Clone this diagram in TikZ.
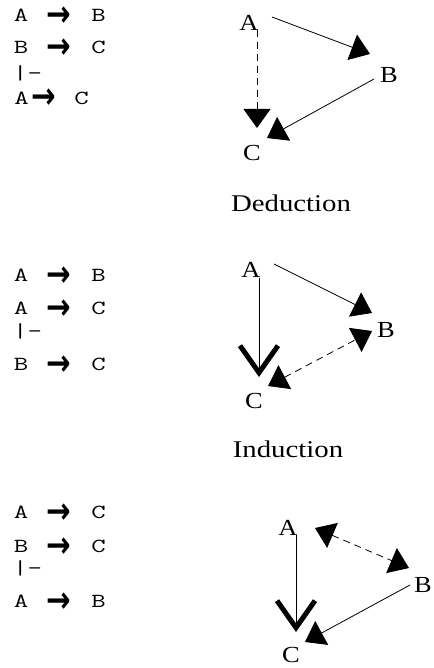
\documentclass[tikz,border=0pt]{standalone}
\usepackage{fontspec}
\usepackage{graphicx}
\usetikzlibrary{arrows.meta}
\newfontfamily\arrfont{DejaVu Sans}
\newfontfamily\labfont{Liberation Serif}
\newcommand\widen[2]{\scalebox{#1}[1]{#2}}
\newcommand\premarr{\smash{\scalebox{1.05}[1.3]{→}}}
\tikzset{
  premtext/.style={inner sep=0pt, font=\fontsize{20}{20}\selectfont\ttfamily},
  premarrow/.style={inner sep=0pt, text height=22pt, text depth=-6pt,
    font=\fontsize{28}{28}\selectfont\arrfont\bfseries},
  vertexlab/.style={inner sep=0pt, font=\fontsize{23}{23}\selectfont\labfont},
  paneltitle/.style={inner sep=0pt, font=\fontsize{24}{24}\selectfont\labfont},
  solidline/.style={line width=0.8pt},
  dashline/.style={line width=0.8pt, dash pattern=on 7pt off 5pt},
  trihead/.style={-{Triangle[length=19pt,width=27pt]}},
  bitrihead/.style={{Triangle[length=19pt,width=27pt]}-{Triangle[length=19pt,width=27pt]}},
  veehead/.style={-{Straight Barb[length=27pt,width=38pt,line width'=5pt]}}
}
\newcommand\premline[4]{%
  \node[premtext] (#1x) at (21,#2) {\widen{1.4}{#3}};
  \node[premarrow] (#1a) at (59,#2) {\premarr};
  \node[premtext] (#1y) at (98.5,#2) {\widen{1.4}{#4}};}
\begin{document}
\begin{tikzpicture}[x=1pt,y=-1pt]
\useasboundingbox (0,0) rectangle (433,668);
% ---------- Panel 1: Deduction ----------
\premline{pa1}{15.5}{A}{B}
\premline{pa2}{47.5}{B}{C}
\node[premtext, anchor=west] (pat) at (13,73) {\widen{1.4}{|-}};
\node[premtext] (pa4x) at (21.5,98) {\widen{1.4}{A}};
\node[premarrow] (pa4a) at (43.5,98) {\premarr};
\node[premtext] (pa4y) at (81.5,98) {\widen{1.4}{C}};
\node[vertexlab] (A1) at (249,23) {\widen{1.15}{A}};
\node[vertexlab] (B1) at (389,75) {\widen{1.15}{B}};
\node[vertexlab] (C1) at (252,153) {\widen{1.15}{C}};
\node[paneltitle] (T1) at (291,203) {\widen{1.2}{Deduction}};
\draw[solidline,trihead] ([shift={(23,-6)}]A1.center) -- ([shift={(-19,-21)}]B1.center);
\draw[dashline,trihead] ([shift={(8,7)}]A1.center) -- ([shift={(5,-25)}]C1.center);
\draw[solidline,trihead] ([shift={(-15,4)}]B1.center) -- ([shift={(15,-15)}]C1.center);
% ---------- Panel 2: Induction ----------
\premline{pb1}{275}{A}{B}
\premline{pb2}{308.5}{A}{C}
\node[premtext, anchor=west] (pbt) at (13,331.5) {\widen{1.4}{|-}};
\premline{pb4}{364}{B}{C}
\node[vertexlab] (A2) at (251,270) {\widen{1.15}{A}};
\node[vertexlab] (B2) at (386,330) {\widen{1.15}{B}};
\node[vertexlab] (C2) at (254,401) {\widen{1.15}{C}};
\node[paneltitle] (T2) at (288,449) {\widen{1.2}{Induction}};
\draw[solidline,trihead] ([shift={(23,-6)}]A2.center) -- ([shift={(-14,-17)}]B2.center);
\draw[solidline,veehead] ([shift={(8,8)}]A2.center) -- ([shift={(5,-24)}]C2.center);
\draw[dashline,bitrihead] ([shift={(14,-15)}]C2.center) -- ([shift={(-14,1)}]B2.center);
% ---------- Panel 3 ----------
\premline{pc1}{512.5}{A}{C}
\premline{pc2}{546}{B}{C}
\node[premtext, anchor=west] (pct) at (13,568.5) {\widen{1.4}{|-}};
\premline{pc4}{601}{A}{B}
\node[vertexlab] (A3) at (288,528) {\widen{1.15}{A}};
\node[vertexlab] (B3) at (423,585) {\widen{1.15}{B}};
\node[vertexlab] (C3) at (291,655) {\widen{1.15}{C}};
\draw[solidline,veehead] ([shift={(8,7)}]A3.center) -- ([shift={(5,-23)}]C3.center);
\draw[dashline,bitrihead] ([shift={(27,0)}]A3.center) -- ([shift={(-14,-17)}]B3.center);
\draw[solidline,trihead] ([shift={(-13,0)}]B3.center) -- ([shift={(14,-13)}]C3.center);
\end{tikzpicture}
\end{document}
